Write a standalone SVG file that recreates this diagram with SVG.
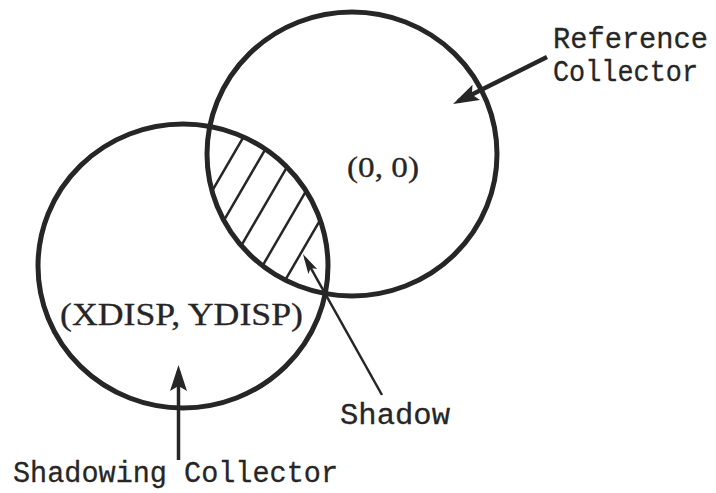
<svg xmlns="http://www.w3.org/2000/svg" width="716" height="493" viewBox="0 0 716 493">
  <style>
    .circ { fill: none; stroke: #262626; stroke-width: 5; }
    .hatch { stroke: #262626; stroke-width: 2.5; }
    .conn { fill: none; stroke: #262626; }
    .lbl { font-family: "Liberation Mono", "Courier New", monospace; font-size: 30px; fill: #262626; stroke: #262626; stroke-width: 0.3; }
    .coord { font-family: "Liberation Serif", "Times New Roman", serif; fill: #262626; stroke: #262626; stroke-width: 0.3; }
  </style>
  <defs>
    <clipPath id="clipShadowing"><ellipse cx="183" cy="266" rx="145" ry="142"/></clipPath>
    <clipPath id="clipReference"><ellipse cx="352" cy="154" rx="145" ry="142"/></clipPath>
    <marker id="arrowL" markerUnits="userSpaceOnUse" viewBox="0 -10 30 20" markerWidth="30" markerHeight="20" refX="20" refY="0" orient="auto">
      <path d="M0,-8.5 L26,0 L0,8.5 L5,0 Z" fill="#262626"/>
    </marker>
    <marker id="arrowS" markerUnits="userSpaceOnUse" viewBox="0 -7 24 14" markerWidth="24" markerHeight="14" refX="15" refY="0" orient="auto">
      <path d="M0,-5 L20,0 L0,5 L4,0 Z" fill="#262626"/>
    </marker>
  </defs>
  <rect width="716" height="493" fill="#ffffff"/>

  <g id="shadow-hatch" clip-path="url(#clipShadowing)">
    <g clip-path="url(#clipReference)">
      <line class="hatch" x1="265" y1="100" x2="137" y2="320"/>
      <line class="hatch" x1="294" y1="100" x2="166" y2="320"/>
      <line class="hatch" x1="326" y1="100" x2="198" y2="320"/>
      <line class="hatch" x1="359" y1="100" x2="231" y2="320"/>
      <line class="hatch" x1="390" y1="100" x2="262" y2="320"/>
    </g>
  </g>

  <g id="reference-collector">
    <ellipse class="circ" cx="352" cy="154" rx="145" ry="142"/>
    <text class="coord" x="347" y="177" font-size="29" textLength="72" lengthAdjust="spacingAndGlyphs">(0, 0)</text>
  </g>

  <g id="shadowing-collector">
    <ellipse class="circ" cx="183" cy="266" rx="145" ry="142"/>
    <text class="coord" x="60" y="325" font-size="32" textLength="243" lengthAdjust="spacingAndGlyphs">(XDISP, YDISP)</text>
  </g>

  <g id="label-reference">
    <text class="lbl" x="553" y="48" textLength="155" lengthAdjust="spacingAndGlyphs">Reference</text>
    <text class="lbl" x="553" y="81" textLength="145" lengthAdjust="spacingAndGlyphs">Collector</text>
  </g>
  <g id="label-shadow">
    <text class="lbl" x="340" y="424" textLength="110" lengthAdjust="spacingAndGlyphs">Shadow</text>
  </g>
  <g id="label-shadowing">
    <text class="lbl" x="13" y="482" textLength="325" lengthAdjust="spacingAndGlyphs">Shadowing Collector</text>
  </g>

  <g id="connectors">
    <line class="conn" stroke-width="4.5" x1="547" y1="57" x2="458.4" y2="101.3" marker-end="url(#arrowL)"/>
    <line class="conn" stroke-width="2.5" x1="382" y1="395" x2="305.4" y2="258.4" marker-end="url(#arrowS)"/>
    <line class="conn" stroke-width="3.5" x1="178.5" y1="460" x2="178.5" y2="371" marker-end="url(#arrowL)"/>
  </g>
</svg>
